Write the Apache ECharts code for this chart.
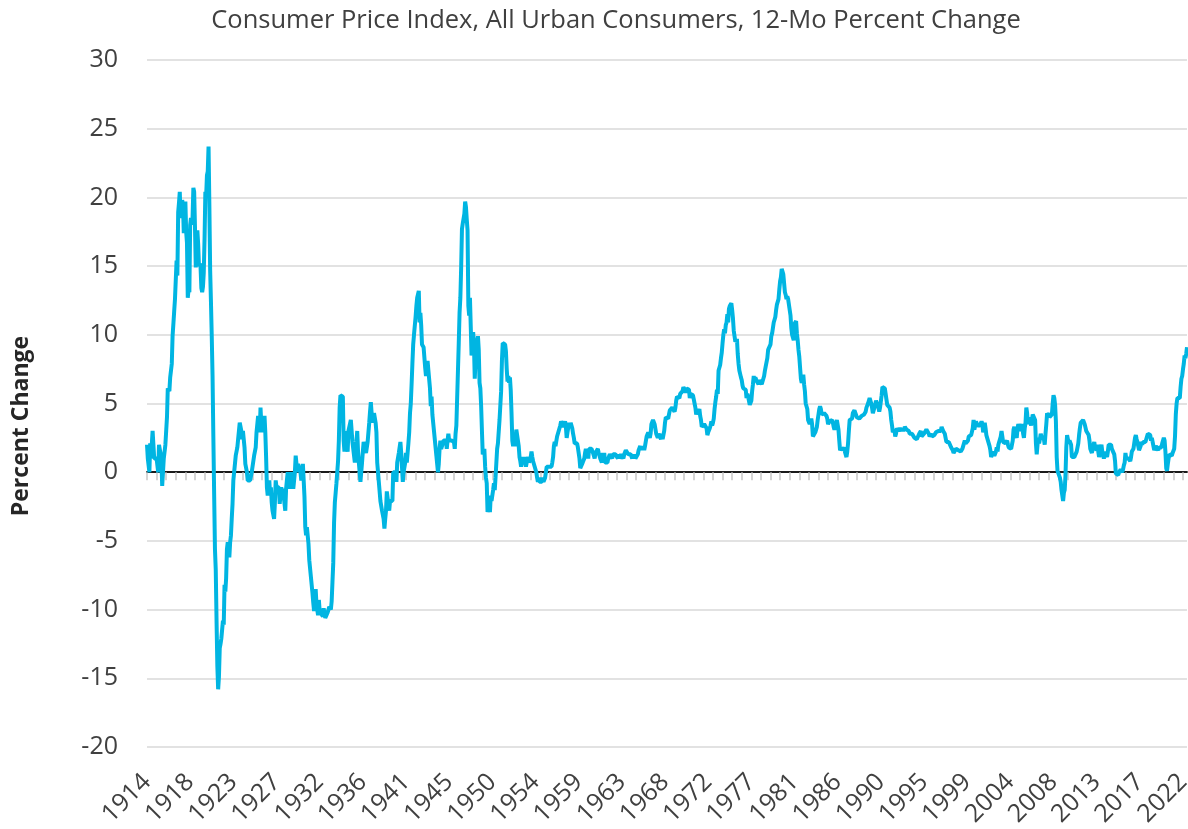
<!DOCTYPE html>
<html>
<head>
<meta charset="utf-8">
<script src="https://cdn.jsdelivr.net/npm/echarts@6/dist/echarts.min.js"></script>
<style>
html,body{margin:0;padding:0;background:#fff;}
#chart{width:1188px;height:829px;}
</style>
</head>
<body>
<div id="chart"></div>
<script>
// Monthly 12-month % change, Jan 1914 .. Jun 2022
var cpi1910s = [
 2.0,1.0,1.0,0.0,2.1,1.0,1.0,3.0,2.0,1.0,1.0,1.0,
 1.0,1.0,0.0,2.0,2.0,2.0,1.0,-1.0,-1.0,1.0,1.0,2.0,
 3.0,4.0,6.1,6.0,5.9,6.9,6.9,7.9,9.9,10.8,11.7,12.6,
 12.5,15.4,14.3,18.9,19.6,20.4,18.5,19.3,19.8,19.5,17.4,18.1,
 19.7,17.5,16.7,12.7,13.3,13.1,18.0,18.5,18.0,18.5,20.7,20.4,
 17.9,14.9,17.1,17.6,16.6,15.0,15.2,14.9,13.4,13.1,13.5,14.5
];
var cpi1920s = [
 17.0,20.4,20.1,21.6,21.9,23.7,19.5,14.7,12.4,9.9,7.0,2.6,
 -1.6,-5.6,-7.1,-10.8,-14.1,-15.8,-14.9,-12.8,-12.5,-12.1,-12.1,-10.8,
 -11.1,-8.2,-8.7,-7.7,-5.6,-5.1,-5.1,-6.2,-5.1,-4.6,-3.4,-2.3,
 -0.6,-0.6,0.6,1.2,1.2,1.8,2.4,3.0,3.6,3.6,3.0,2.4,
 3.0,2.4,1.8,0.6,0.6,0.0,-0.6,-0.6,-0.6,-0.6,-0.6,0.0,
 0.0,0.0,1.2,1.2,1.8,2.9,3.5,4.1,3.5,2.9,4.7,3.5,
 3.5,4.1,2.9,4.1,2.9,1.1,-1.1,-1.7,-1.1,-0.6,-1.7,-1.1,
 -2.2,-2.8,-2.8,-3.4,-2.2,-0.6,-1.1,-1.1,-1.1,-1.1,-2.3,-2.3,
 -1.1,-1.7,-1.2,-1.2,-1.1,-2.8,-1.2,-0.6,0.0,-1.1,-0.6,-1.2,
 -1.2,0.0,-0.6,-1.2,-1.2,0.0,1.2,1.2,0.0,0.6,0.6,0.6
];
var cpi1930s = [
 0.0,-0.6,-0.6,0.6,-0.6,-1.8,-4.0,-4.6,-4.0,-4.6,-5.2,-6.4,
 -7.0,-7.6,-7.7,-8.8,-9.5,-10.1,-9.0,-8.5,-9.6,-9.7,-10.4,-9.3,
 -10.1,-10.2,-10.3,-10.3,-10.5,-9.9,-9.9,-10.6,-10.7,-10.7,-10.2,-10.3,
 -9.8,-9.9,-10.0,-9.4,-8.0,-6.6,-3.7,-2.2,-1.5,-0.8,0.0,0.8,
 2.3,4.7,5.6,5.6,5.6,5.5,2.3,1.5,3.0,2.3,2.3,1.5,
 3.0,3.0,3.0,3.8,3.8,2.2,2.2,2.2,0.7,1.5,2.2,3.0,
 1.5,0.7,0.0,-0.7,-0.7,0.7,1.5,2.2,2.2,2.2,1.4,1.4,
 2.2,2.2,3.6,4.4,5.1,4.3,4.3,3.6,4.3,4.3,3.6,2.9,
 0.7,0.0,-0.7,-0.7,-2.1,-2.1,-2.8,-2.8,-3.4,-4.1,-3.4,-2.8,
 -1.4,-1.4,-1.4,-2.8,-2.1,-2.1,-2.1,-2.1,0.0,0.0,0.0,0.0
];
var cpi1940s = [
 -0.7,0.7,0.7,1.4,1.4,2.2,1.4,1.4,-0.7,0.0,0.0,0.7,
 1.4,0.7,1.4,2.1,2.9,4.3,5.0,6.4,7.9,9.3,10.0,9.9,
 11.3,12.1,12.7,12.6,13.2,10.9,11.6,10.7,9.3,9.2,9.1,9.0,
 7.6,7.0,7.5,8.1,7.4,7.4,6.1,4.8,5.5,4.2,3.6,3.0,
 3.0,3.0,1.2,0.6,0.0,0.6,1.7,2.3,1.7,1.7,1.7,2.3,
 2.3,2.3,2.3,1.7,2.3,2.8,2.3,2.3,2.3,2.3,2.3,2.2,
 2.2,1.7,2.8,3.4,3.4,3.3,9.4,11.6,12.7,14.9,17.7,18.1,
 18.1,18.8,19.7,19.3,18.4,17.6,12.1,11.4,12.7,10.6,8.5,8.8,
 10.2,9.3,6.8,8.2,9.1,9.5,9.9,8.9,6.5,6.1,4.8,3.0,
 1.3,1.3,1.7,0.4,-0.4,-0.8,-2.9,-2.9,-2.4,-2.9,-1.7,-2.1
];
var cpi1950s = [
 -2.1,-1.3,-0.8,-1.3,-0.4,-0.4,1.7,2.1,2.1,3.8,3.8,5.9,
 8.1,9.4,9.3,9.3,9.3,8.8,7.5,6.6,7.0,6.5,6.9,6.0,
 4.3,2.3,1.9,2.3,1.9,2.3,3.1,3.1,2.3,1.9,1.1,0.8,
 0.4,0.8,1.1,0.8,1.1,1.1,0.4,0.7,0.7,1.1,0.7,0.7,
 1.1,1.5,1.1,0.8,0.7,0.4,0.4,0.0,-0.4,-0.7,-0.4,-0.7,
 -0.7,-0.7,-0.7,-0.4,-0.7,-0.7,-0.4,-0.4,0.4,0.4,0.4,0.4,
 0.4,0.4,0.4,0.7,1.1,1.9,2.2,1.9,1.9,2.6,2.6,3.0,
 3.0,3.4,3.7,3.7,3.7,3.3,3.3,3.7,3.3,2.5,2.9,2.9,
 3.6,3.2,3.6,3.6,3.2,2.8,2.5,2.1,2.1,2.1,2.1,1.8,
 1.4,1.0,0.3,0.3,0.3,0.7,0.7,1.0,1.4,1.7,1.4,1.7
];
var cpi1960s = [
 1.0,1.7,1.7,1.7,1.7,1.7,1.4,1.4,1.0,1.4,1.4,1.4,
 1.7,1.4,1.4,1.0,1.0,0.7,1.4,1.0,1.4,0.7,0.7,0.7,
 0.7,1.0,1.0,1.3,1.3,1.3,1.0,1.3,1.3,1.3,1.3,1.3,
 1.3,1.0,1.3,1.0,1.0,1.3,1.3,1.3,1.0,1.3,1.3,1.6,
 1.6,1.6,1.3,1.3,1.3,1.3,1.3,1.0,1.3,1.0,1.3,1.0,
 1.0,1.0,1.3,1.6,1.6,1.9,1.6,1.9,1.6,1.9,1.6,1.9,
 1.9,2.6,2.6,2.9,2.9,2.5,2.8,3.5,3.5,3.8,3.8,3.5,
 3.5,2.8,2.8,2.5,2.8,2.8,2.8,2.4,2.8,2.4,2.7,3.0,
 3.6,4.0,3.9,3.9,3.9,4.2,4.5,4.5,4.5,4.7,4.7,4.7,
 4.4,4.7,5.2,5.5,5.5,5.5,5.4,5.7,5.7,5.7,5.9,6.2
];
var cpi1970s = [
 6.2,6.1,5.8,6.1,6.0,6.0,6.0,5.4,5.7,5.6,5.6,5.6,
 5.3,5.0,4.7,4.2,4.4,4.6,4.4,4.6,4.1,3.8,3.3,3.3,
 3.3,3.5,3.5,3.5,3.2,2.7,2.9,2.9,3.2,3.4,3.7,3.4,
 3.6,3.9,4.6,5.1,5.5,6.0,5.7,7.4,7.4,7.8,8.3,8.7,
 9.4,10.0,10.4,10.1,10.7,10.9,11.5,10.9,11.9,12.1,12.2,12.3,
 11.8,11.2,10.3,10.2,9.5,9.4,9.7,8.6,7.9,7.4,7.4,6.9,
 6.7,6.3,6.1,6.0,6.2,6.0,5.4,5.7,5.5,5.5,4.9,4.9,
 5.2,5.9,6.4,7.0,6.7,6.9,6.8,6.6,6.6,6.4,6.7,6.7,
 6.8,6.4,6.6,6.5,7.0,7.4,7.7,7.8,8.3,8.9,8.9,9.0,
 9.3,9.9,10.1,10.5,10.9,10.9,11.3,11.8,12.2,12.1,12.6,13.3
];
var cpi1980s = [
 13.9,14.2,14.8,14.7,14.4,14.4,13.1,12.9,12.6,12.8,12.6,12.5,
 11.8,11.4,10.5,10.0,9.8,9.6,10.8,10.8,11.0,10.1,9.6,8.9,
 8.4,7.6,6.8,6.5,6.7,7.1,6.4,5.9,5.0,5.1,4.6,3.8,
 3.7,3.5,3.6,3.9,3.5,2.6,2.5,2.6,2.9,2.9,3.3,3.8,
 4.2,4.6,4.8,4.6,4.2,4.2,4.2,4.3,4.3,4.3,4.1,3.9,
 3.5,3.5,3.7,3.7,3.8,3.8,3.6,3.3,3.1,3.2,3.5,3.8,
 3.9,3.1,2.3,1.6,1.5,1.8,1.6,1.6,1.8,1.5,1.3,1.1,
 1.5,2.1,3.0,3.8,3.9,3.7,3.9,4.3,4.4,4.5,4.5,4.4,
 4.0,3.9,3.9,3.9,3.9,4.0,4.1,4.0,4.2,4.2,4.2,4.4,
 4.7,4.8,5.0,5.1,5.4,5.2,5.0,4.7,4.3,4.5,4.7,4.6
];
var cpi1990s = [
 5.2,5.3,5.2,4.7,4.4,4.7,4.8,5.6,6.2,6.3,6.3,6.1,
 5.7,5.3,4.9,4.9,5.0,4.7,4.4,3.8,3.4,2.9,3.0,3.1,
 2.6,2.8,3.2,3.2,3.0,3.1,3.2,3.1,3.0,3.2,3.0,2.9,
 3.3,3.2,3.1,3.2,3.2,3.0,2.8,2.8,2.7,2.8,2.7,2.7,
 2.5,2.5,2.5,2.4,2.3,2.5,2.8,2.9,3.0,2.6,2.7,2.7,
 2.8,2.9,2.9,3.1,3.2,3.0,2.8,2.6,2.5,2.8,2.6,2.5,
 2.7,2.7,2.8,2.9,2.9,2.8,3.0,2.9,3.0,3.0,3.3,3.3,
 3.0,3.0,2.8,2.5,2.2,2.3,2.2,2.2,2.2,2.1,1.8,1.7,
 1.6,1.4,1.4,1.4,1.7,1.7,1.7,1.6,1.5,1.5,1.5,1.6,
 1.7,1.6,1.7,2.3,2.1,2.0,2.1,2.3,2.6,2.6,2.6,2.7
];
var cpi2000s = [
 2.7,3.2,3.8,3.1,3.2,3.7,3.7,3.4,3.5,3.4,3.4,3.4,
 3.7,3.5,2.9,3.3,3.6,3.2,2.7,2.7,2.6,2.1,1.9,1.6,
 1.1,1.1,1.5,1.6,1.2,1.1,1.5,1.8,1.5,2.0,2.2,2.4,
 2.6,3.0,3.0,2.2,2.1,2.1,2.1,2.2,2.3,2.0,1.8,1.9,
 1.9,1.7,1.7,2.3,3.1,3.3,3.0,2.7,2.5,3.2,3.5,3.3,
 3.0,3.0,3.1,3.5,2.8,2.5,3.2,3.6,4.7,4.3,3.5,3.4,
 4.0,3.6,3.4,3.5,4.2,4.3,4.1,3.8,2.1,1.3,2.0,2.5,
 2.1,2.4,2.8,2.6,2.7,2.7,2.4,2.0,2.8,3.5,4.3,4.1,
 4.3,4.0,4.0,3.9,4.2,5.0,5.6,5.4,4.9,3.7,1.1,0.1,
 0.0,0.2,-0.4,-0.7,-1.3,-1.4,-2.1,-1.5,-1.3,-0.2,1.8,2.7
];
var cpi2010s = [
 2.6,2.1,2.3,2.2,2.0,1.1,1.2,1.1,1.1,1.2,1.1,1.5,
 1.6,2.1,2.7,3.2,3.6,3.6,3.6,3.8,3.9,3.5,3.4,3.0,
 2.9,2.9,2.7,2.3,1.7,1.7,1.4,1.7,2.0,2.2,1.8,1.7,
 1.6,2.0,1.5,1.1,1.4,1.8,2.0,1.5,1.2,1.0,1.2,1.5,
 1.6,1.1,1.5,2.0,2.1,2.1,2.0,1.7,1.7,1.7,1.3,0.8,
 -0.1,0.0,-0.1,-0.2,0.0,0.1,0.2,0.2,0.0,0.2,0.5,0.7,
 1.4,1.0,0.9,1.1,1.0,1.0,0.8,1.1,1.5,1.6,1.7,2.1,
 2.5,2.7,2.4,2.2,1.9,1.6,1.7,1.9,2.2,2.0,2.2,2.1,
 2.1,2.2,2.4,2.5,2.8,2.9,2.9,2.7,2.3,2.5,2.2,1.9,
 1.6,1.5,1.9,2.0,1.8,1.6,1.8,1.7,1.7,1.8,2.1,2.3
];
var cpi2020s = [
 2.5,2.3,1.5,0.3,0.1,0.6,1.0,1.3,1.4,1.2,1.2,1.4,
 1.4,1.7,2.6,4.2,5.0,5.4,5.4,5.3,5.4,6.2,6.8,7.0,
 7.5,7.9,8.5,8.3,8.6,9.1
];
var startYear = 1914;
var yTicks = [-20, -15, -10, -5, 0, 5, 10, 15, 20, 25, 30];
var titleText = 'Consumer Price Index, All Urban Consumers, 12-Mo Percent Change';
var yAxisTitle = 'Percent Change';

var values = [].concat(cpi1910s, cpi1920s, cpi1930s, cpi1940s, cpi1950s,
  cpi1960s, cpi1970s, cpi1980s, cpi1990s, cpi2000s, cpi2010s, cpi2020s);
var months = [];
for (var i = 0; i < values.length; i++) {
  var y = startYear + Math.floor(i / 12);
  var m = (i % 12) + 1;
  months.push(y + '-' + (m < 10 ? '0' + m : m));
}

var FONT = 'Open Sans';
var chart = echarts.init(document.getElementById('chart'), null, {renderer: 'canvas'});
chart.setOption({
  animation: false,
  backgroundColor: '#ffffff',
  title: {
    text: titleText,
    left: 611, top: 3, textAlign: 'center',
    textStyle: {fontFamily: FONT, fontSize: 25.5, fontWeight: 'normal', color: '#404040'}
  },
  graphic: [{
    type: 'text',
    x: 21, y: 426, rotation: Math.PI / 2,
    style: {text: yAxisTitle, fontFamily: FONT, fontSize: 23, fontWeight: 'bold',
      fill: '#262626', align: 'center', verticalAlign: 'middle'}
  }],
  grid: {left: 147, right: 1, top: 60, bottom: 82, containLabel: false, outerBoundsMode: 'none'},
  xAxis: [{
    type: 'category', data: months, boundaryGap: false, position: 'bottom',
    axisLine: {show: true, onZero: true, lineStyle: {color: '#1a1a1a', width: 1.8}},
    axisTick: {show: true, length: 8, interval: function (idx) { return idx % 12 === 0; },
      lineStyle: {color: '#c8c8c8', width: 1.5}},
    axisLabel: {show: false}, splitLine: {show: false}
  }, {
    type: 'category', data: months, boundaryGap: false, position: 'bottom',
    axisLine: {show: false, onZero: false}, axisTick: {show: false},
    axisLabel: {show: true, interval: 53, rotate: 45, margin: 31,
      fontFamily: FONT, fontSize: 25, color: '#404040',
      formatter: function (v) { return v.slice(0, 4); }},
    splitLine: {show: false}
  }],
  yAxis: {
    type: 'value', min: yTicks[0], max: yTicks[yTicks.length - 1], interval: 5,
    axisLine: {show: false}, axisTick: {show: false},
    axisLabel: {margin: 29, fontFamily: FONT, fontSize: 25, color: '#404040'},
    splitLine: {lineStyle: {color: '#d9d9d9', width: 1.5}}
  },
  series: [{
    type: 'line', data: values, xAxisIndex: 0, showSymbol: false, symbol: 'none',
    lineStyle: {color: '#00b5e2', width: 4}, z: 3
  }]
});
</script>
</body>
</html>
